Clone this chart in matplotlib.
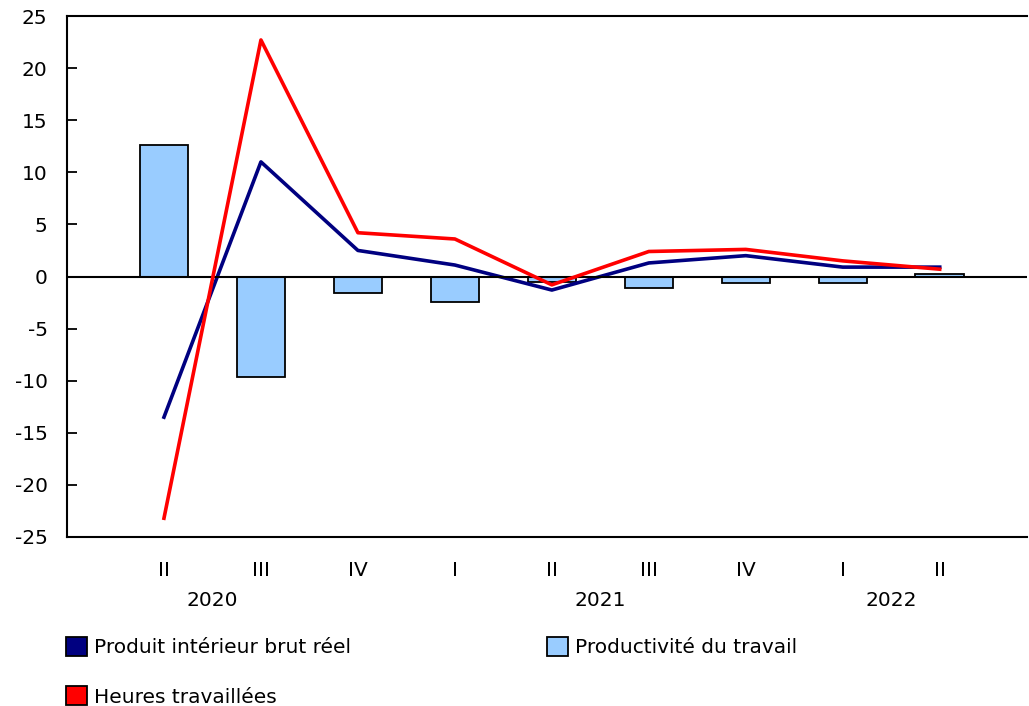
import matplotlib.pyplot as plt
from matplotlib.patches import Patch
from matplotlib.transforms import blended_transform_factory

quarters = ["II", "III", "IV", "I", "II", "III", "IV", "I", "II"]
years = ["2020", "2021", "2022"]
year_pos = [0.5, 4.5, 7.5]
pib = [-13.5, 11.0, 2.5, 1.1, -1.3, 1.3, 2.0, 0.9, 0.9]
heures = [-23.2, 22.7, 4.2, 3.6, -0.8, 2.4, 2.6, 1.5, 0.7]
productivite = [12.6, -9.6, -1.6, -2.4, -0.5, -1.1, -0.6, -0.6, 0.2]

plt.rcParams['font.family'] = ['DejaVu Sans']
plt.rcParams['axes.unicode_minus'] = False
fs = 14.5
fig = plt.figure(figsize=(10.29, 7.06), dpi=100)
ax = fig.add_axes([67/1029, 1 - 537/706, 960/1029, 521/706])

x = list(range(len(quarters)))
ax.bar(x, productivite, width=0.5, color='#99ccff', edgecolor='black',
       linewidth=1.3, zorder=2)
ax.plot(x, pib, color='#000080', linewidth=2.6, zorder=3)
ax.plot(x, heures, color='#ff0000', linewidth=2.6, zorder=4)
ax.axhline(0, color='black', linewidth=1.5, zorder=3)

ax.set_xlim(-1, 8.9)
ax.set_ylim(-25, 25)
ax.set_yticks(range(-25, 26, 5))
ax.set_xticks(x)
ax.set_xticklabels(quarters)
ax.tick_params(axis='y', direction='in', length=7, width=1.3, pad=14, labelsize=fs)
ax.tick_params(axis='x', length=0, pad=17, labelsize=fs)
ax.spines['right'].set_visible(False)
for s in ['left', 'top', 'bottom']:
    ax.spines[s].set_linewidth(1.5)

tr = blended_transform_factory(ax.transData, ax.transAxes)
for yr, p in zip(years, year_pos):
    ax.text(p, -0.121, yr, transform=tr, ha='center', va='center', fontsize=fs)

handles = [Patch(facecolor='#000080', edgecolor='black', linewidth=1.3),
           Patch(facecolor='#ff0000', edgecolor='black', linewidth=1.3),
           Patch(facecolor='#99ccff', edgecolor='black', linewidth=1.3)]
labels = ['Produit intérieur brut réel', 'Heures travaillées', 'Productivité du travail']
fig.legend(handles, labels, ncol=2, loc='upper left',
           bbox_to_anchor=(66/1029, 1 - 637/706),
           frameon=False, fontsize=fs, handlelength=1.05, handleheight=1.05,
           handletextpad=0.35, columnspacing=9.7, labelspacing=1.45,
           borderaxespad=0, borderpad=0)

plt.savefig('out.png', dpi=100)
